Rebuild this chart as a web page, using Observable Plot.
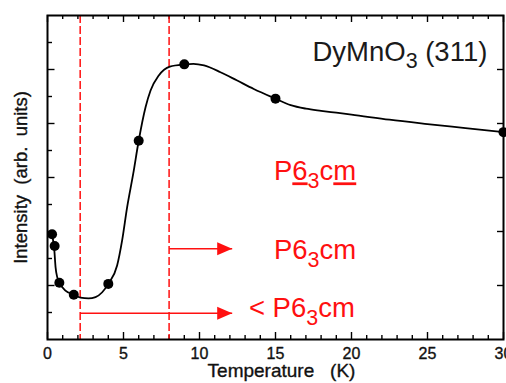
<!DOCTYPE html>
<html>
<head>
<meta charset="utf-8">
<script src="https://cdn.jsdelivr.net/npm/d3@7"></script>
<script src="https://cdn.jsdelivr.net/npm/@observablehq/plot@0.6"></script>
<style>
  html, body { margin: 0; padding: 0; background: #fff; }
  #chart { width: 506px; height: 383px; overflow: hidden; }
</style>
</head>
<body>
<div id="chart"></div>
<script>
// (311) reflection intensity of DyMnO3 against temperature
const temperature = [0.3, 0.47, 0.78, 1.73, 4, 6, 9, 15, 30];
const intensity   = [3.9, 3.46, 2.1, 1.66, 2.06, 7.36, 10.19, 8.92, 7.68];

// Smooth guide-to-the-eye curve through the measurements
const fitTemperature = [0.3, 0.45, 0.53, 0.64, 0.79, 1.18, 1.73, 2.17, 2.7, 3.16, 3.6, 4.0,
  4.58, 4.91, 5.24, 5.64, 6.0, 6.45, 6.78, 7.32, 8.05, 9.0, 9.6, 10.3, 11.38, 12.48, 13.57,
  15.0, 16.0, 17.0, 18.0, 19.0, 20.0, 22.5, 25.0, 27.5, 30.0];
const fitIntensity = [3.9, 3.3, 2.68, 2.31, 2.1, 1.81, 1.66, 1.55, 1.52, 1.57, 1.75, 2.06,
  2.74, 3.67, 4.9, 6.14, 7.36, 8.6, 9.22, 9.78, 10.11, 10.19, 10.21, 10.15, 9.9, 9.59, 9.28,
  8.92, 8.68, 8.55, 8.47, 8.4, 8.33, 8.14, 7.98, 7.83, 7.68];

// Phase boundaries (K)
const boundaries = [2.15, 8];

// Arrows marking the temperature ranges
const arrowStart = [8, 2.15];
const arrowEnd   = [12.15, 12.15];
const arrowLevel = [3.36, 0.97];

// Labels: "_n" is a subscript, "[..]" is underlined
const phaseLabels = ["P[6]_3c[m]", "P6_3cm", "<\u00a0P6_3cm"];
const phaseX = [14.9, 14.9, 13.25];
const phaseY = [6.22, 3.3, 1.15];
const titleLabel = ["DyMnO_3\u00a0(311)"];
const titleX = [17.43];
const titleY = [10.65];

// Axis ticks and labels
const xMajorTicks = [0, 5, 10, 15, 20, 25, 30];
const xMinorTicks = d3.range(0, 31).filter(d => d % 5 !== 0);
const yMajorTicks = [2, 4, 6, 8, 10];
const yMinorTicks = [1, 3, 5, 7, 9, 11];
const xTitle = "Temperature\u00a0\u00a0\u00a0(K)";
const yTitle = "Intensity\u00a0\u00a0(arb.\u00a0\u00a0units)";

const width = 506, height = 383;
const margin = {top: 15, right: 3, bottom: 44, left: 47};
const W = width - margin.left - margin.right;
const H = height - margin.top - margin.bottom;
const red = "#ff1010";
const richSize = 27.5;
const subScale = 0.78;

const points = temperature.map((t, i) => ({t, v: intensity[i]}));
const fit = fitTemperature.map((t, i) => ({t, v: fitIntensity[i]}));
const arrows = arrowStart.map((s, i) => ({s, e: arrowEnd[i], y: arrowLevel[i]}));
const phases = phaseLabels.map((s, i) => ({s, x: phaseX[i], y: phaseY[i]}));
const titles = titleLabel.map((s, i) => ({s, x: titleX[i], y: titleY[i]}));

// filled triangular arrow head, tip at the anchor point
const arrowHead = {
  draw(context) {
    context.moveTo(0, 0);
    context.lineTo(-15, -6.5);
    context.lineTo(-15, 6.5);
    context.closePath();
  }
};

const xTicksBottom = (ticks, len) => Plot.tickX(ticks, {x: d => d, insetTop: H - len, strokeWidth: 1.4});
const xTicksTop = (ticks, len) => Plot.tickX(ticks, {x: d => d, insetBottom: H - len, strokeWidth: 1.4});
const yTicksLeft = (ticks, len) => Plot.tickY(ticks, {y: d => d, insetRight: W - len, strokeWidth: 1.4});
const yTicksRight = (ticks, len) => Plot.tickY(ticks, {y: d => d, insetLeft: W - len, strokeWidth: 1.4});

const axisText = {fill: "#111", stroke: "#111", strokeWidth: 0.35};

const chart = Plot.plot({
  width, height,
  marginTop: margin.top, marginRight: margin.right,
  marginBottom: margin.bottom, marginLeft: margin.left,
  x: {domain: [0, 30], axis: null},
  y: {domain: [0, 12], axis: null},
  style: {fontFamily: "'Liberation Sans', Arial, sans-serif", color: "black", background: "white"},
  marks: [
    xTicksBottom(xMajorTicks, 7), xTicksBottom(xMinorTicks, 4),
    xTicksTop(xMajorTicks, 7), xTicksTop(xMinorTicks, 4),
    yTicksLeft(yMajorTicks, 7.5), yTicksLeft(yMinorTicks, 5),
    yTicksRight(yMajorTicks, 6),

    Plot.ruleX(boundaries, {x: d => d, stroke: red, strokeWidth: 1.5, strokeDasharray: "8,3"}),
    Plot.link(arrows, {x1: "s", x2: "e", y1: "y", y2: "y", stroke: red, strokeWidth: 1.6}),
    Plot.dot(arrows, {x: "e", y: "y", symbol: arrowHead, fill: red, stroke: "none"}),

    Plot.line(fit, {x: "t", y: "v", curve: "monotone-x", stroke: "black", strokeWidth: 1.8}),
    Plot.dot(points, {x: "t", y: "v", r: 5, fill: "black", stroke: "none"}),

    Plot.text(phases, {x: "x", y: "y", text: "s", textAnchor: "start", fill: red, fontSize: richSize}),
    Plot.text(titles, {x: "x", y: "y", text: "s", textAnchor: "start", fill: "#1a1a1a", fontSize: richSize}),

    Plot.text(xMajorTicks, {x: d => d, text: d => String(d), frameAnchor: "bottom",
      lineAnchor: "bottom", dy: 19, fontSize: 16, ...axisText}),
    Plot.text([xTitle], {text: d => d, frameAnchor: "bottom", lineAnchor: "bottom",
      textAnchor: "middle", dx: 6, dy: 37.5, fontSize: 19, ...axisText}),
    Plot.text([yTitle], {text: d => d, frameAnchor: "left", lineAnchor: "bottom",
      textAnchor: "middle", rotate: -90, dx: -20.5, fontSize: 18.5, ...axisText}),

    Plot.frame({stroke: "black", strokeWidth: 2})
  ]
});

// Turn the "_n" / "[..]" markup into subscript and underlined tspans
d3.select(chart).selectAll("text")
  .filter(function () { return /_\d|\[/.test(this.textContent); })
  .each(function () {
    const el = d3.select(this);
    const src = this.textContent;
    const drop = richSize * 0.28;
    el.text(null);
    let shifted = false;
    for (const tok of src.split(/(_\d+|\[[^\]]+\])/)) {
      if (!tok) continue;
      const span = el.append("tspan");
      if (tok[0] === "_") {
        span.text(tok.slice(1)).attr("font-size", richSize * subScale).attr("dy", drop);
        shifted = true;
        continue;
      }
      if (shifted) { span.attr("dy", -drop); shifted = false; }
      if (tok[0] === "[") span.text(tok.slice(1, -1)).attr("text-decoration", "underline");
      else span.text(tok);
    }
  });

document.getElementById("chart").append(chart);
</script>
</body>
</html>
